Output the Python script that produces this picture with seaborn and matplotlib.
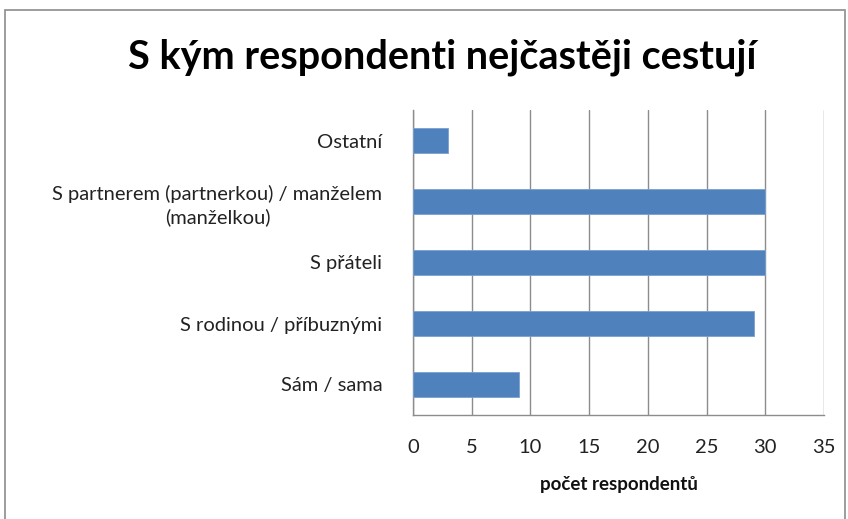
import matplotlib
matplotlib.use("Agg")
import matplotlib.pyplot as plt
import seaborn as sns
import pandas as pd
from matplotlib.patches import Rectangle

categories = ["Ostatní", "S partnerem (partnerkou) / manželem\n(manželkou)", "S přáteli",
              "S rodinou / příbuznými", "Sám / sama"]
values = [3, 30, 30, 29, 9]
xticks = [0, 5, 10, 15, 20, 25, 30, 35]

sns.set_theme(style="white")
plt.rcParams['font.family'] = ['Lato', 'DejaVu Sans']

df = pd.DataFrame({"cat": categories, "val": values})

fig = plt.figure(figsize=(8.48, 5.19), dpi=100)
ax = fig.add_axes([413/848, 1-415/519, (824-413)/848, (415-110)/519])

sns.barplot(data=df, x="val", y="cat", orient="h", color="#4F81BD", width=0.4,
            saturation=1, edgecolor="#7a9fd0", linewidth=0.6, ax=ax, zorder=3)

ax.set_xlim(0, 35)
ax.set_ylim(4.5, -0.5)
ax.set_xticks(xticks)
ax.set_xticklabels([str(t) for t in xticks], fontsize=14.5, color="#222222")
ax.tick_params(axis='x', length=0, pad=17)
ax.tick_params(axis='y', length=0, pad=22)
for lab in ax.get_yticklabels():
    lab.set_fontsize(14.5)
    lab.set_color("#222222")
    lab.set_multialignment("center")
    lab.set_linespacing(1.35)

ax.xaxis.grid(True, color="#8c8c8c", linewidth=1, zorder=0)
ax.set_axisbelow(True)
for s in ["top", "right"]:
    ax.spines[s].set_visible(False)
for s in ["left", "bottom"]:
    ax.spines[s].set_color("#8c8c8c")
    ax.spines[s].set_linewidth(1)

ax.set_ylabel("")
ax.set_xlabel("počet respondentů", fontsize=13.5, fontweight="bold", color="#111111", labelpad=15)

fig.text(0.521, 0.89, "S kým respondenti nejčastěji cestují", ha="center", va="center",
         fontsize=28.5, fontweight="bold", color="#000000")

fig.patches.append(Rectangle((5/848, -0.01), (845-5)/848, 1 - 10/519 + 0.01,
                             transform=fig.transFigure, fill=False,
                             edgecolor="#8c8c8c", linewidth=1.2))

fig.savefig("out.png", dpi=100)
